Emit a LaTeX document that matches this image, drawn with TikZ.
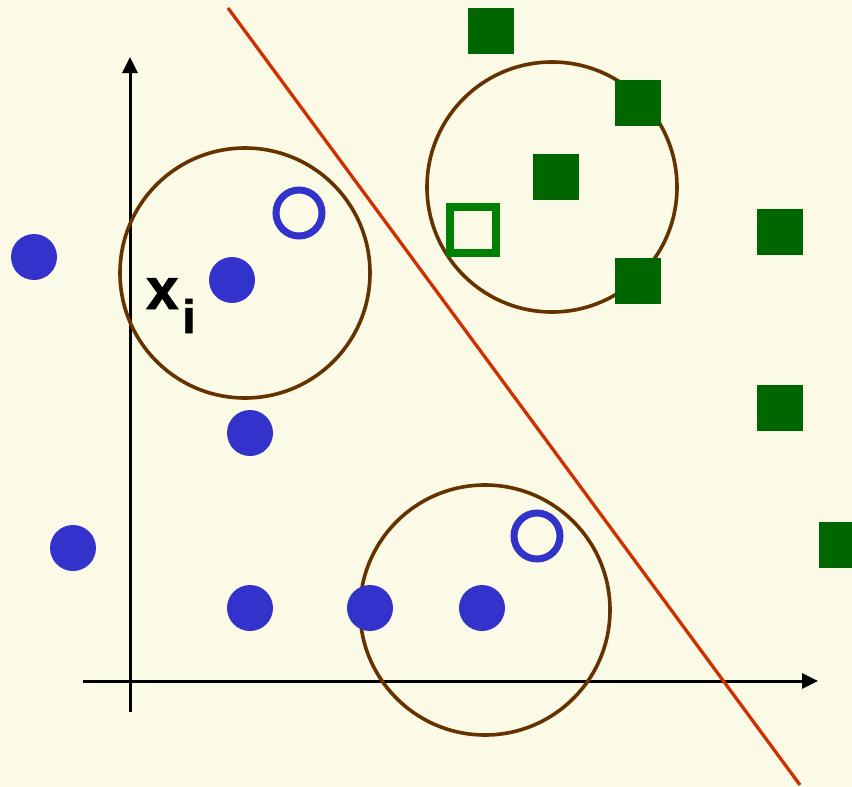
\documentclass[tikz,border=0pt]{standalone}
\usepackage{fontspec}
\setmainfont{Liberation Sans}
\newfontfamily\labfont{Liberation Sans}[BoldFeatures={FakeBold=1.6}]
\usetikzlibrary{arrows.meta}
\definecolor{bgc}{RGB}{250,250,230}
\definecolor{dotblue}{RGB}{51,51,204}
\definecolor{sqgreen}{RGB}{0,102,0}
\definecolor{hollowgreen}{RGB}{0,128,0}
\definecolor{ringbrown}{RGB}{102,51,0}
\definecolor{sepred}{RGB}{208,48,0}
\tikzset{
  bdot/.style={circle,fill=dotblue,inner sep=0pt,minimum size=46pt},
  bring/.style={circle,draw=dotblue,line width=7pt,inner sep=0pt,minimum size=46pt},
  gsq/.style={rectangle,fill=sqgreen,inner sep=0pt,minimum size=46pt},
  gholl/.style={rectangle,draw=hollowgreen,line width=8pt,inner sep=0pt,minimum size=46pt},
  hood/.style={circle,draw=ringbrown,line width=3.6pt,inner sep=0pt,minimum size=250pt},
  axis/.style={line width=3pt,-{Triangle[length=16pt,width=15pt]}},
  sep/.style={draw=sepred,line width=3.3pt}
}
\begin{document}
\begin{tikzpicture}[x=1pt,y=-1pt]
\useasboundingbox (0,0) rectangle (852,787);
\fill[bgc] (0,0) rectangle (852,787);
% axes
\coordinate (yb) at (130,712);
\coordinate (yt) at (130,57);
\coordinate (xl) at (83,681);
\coordinate (xr) at (818,681);
\draw[axis] (yb) -- (yt);
\draw[axis] (xl) -- (xr);
% separating line
\coordinate (s1) at (228,8);
\coordinate (s2) at (800,785);
\draw[sep] (s1) -- (s2);
% neighbourhood circles
\node[hood] (c1) at (245,273) {};
\node[hood] (c2) at (552,187) {};
\node[hood] (c3) at (485,610) {};
% blue dots
\node[bdot] (b1) at (34,257) {};
\node[bdot] (b2) at (232,280) {};
\node[bdot] (b3) at (250,433) {};
\node[bdot] (b4) at (73,548) {};
\node[bdot] (b5) at (250,608) {};
\node[bdot] (b6) at (370,608) {};
\node[bdot] (b7) at (482,608) {};
\node[bring] (r1) at (299,213) {};
\node[bring] (r2) at (537,536) {};
% green squares
\node[gsq] (g1) at (491,31) {};
\node[gsq] (g2) at (638,103) {};
\node[gsq] (g3) at (556,177) {};
\node[gsq] (g4) at (780,232) {};
\node[gsq] (g5) at (638,281) {};
\node[gsq] (g6) at (780,408) {};
\node[gsq] (g7) at (842,545) {};
\node[gholl] (h1) at (473,230) {};
% label
\node[anchor=base west,inner sep=0pt,font=\labfont\bfseries\fontsize{58}{58}\selectfont] (lab) at (146,309) {x\raisebox{-24pt}{\fontsize{47}{47}\selectfont\kern4pt i}};
\end{tikzpicture}
\end{document}
